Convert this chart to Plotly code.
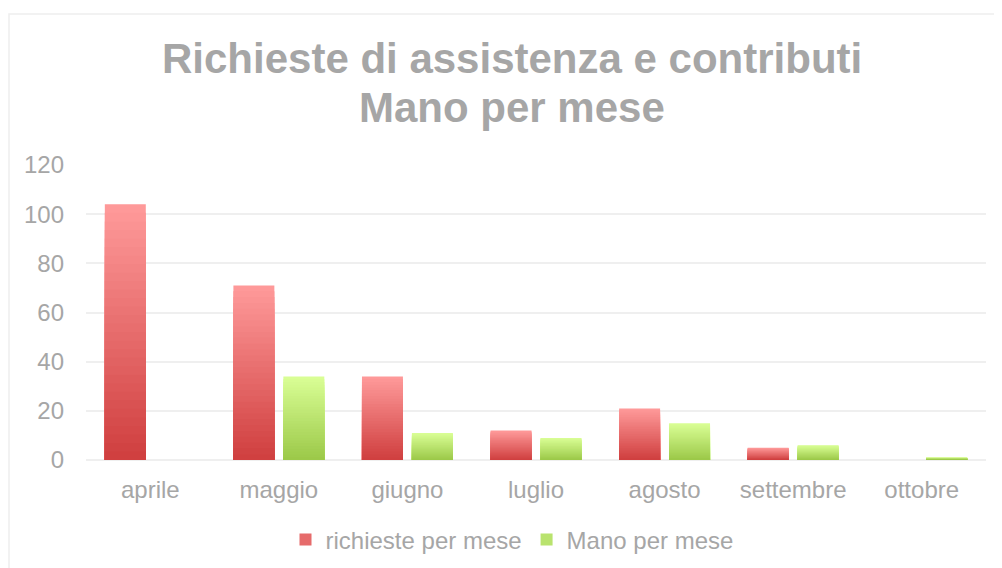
import plotly.graph_objects as go

categories = ["aprile", "maggio", "giugno", "luglio", "agosto", "settembre", "ottobre"]
richieste = [104, 71, 34, 12, 21, 5, 0]
mano = [0, 34, 11, 9, 15, 6, 1]
series_names = ["richieste per mese", "Mano per mese"]
title_lines = ["Richieste di assistenza e contributi", "Mano per mese"]
y_ticks = [0, 20, 40, 60, 80, 100, 120]

red_top, red_bottom = (255, 155, 155), (207, 62, 62)
green_top, green_bottom = (218, 255, 150), (155, 200, 72)

N_LAYERS = 30
TEXT = "#A6A6A6"
FONT = "Liberation Sans, Arial, sans-serif"
FS = 24


def lerp(c1, c2, f):
    return "rgb(%d,%d,%d)" % tuple(round(a + (b - a) * f) for a, b in zip(c1, c2))


fig = go.Figure()

for name, vals, top, bottom, grp in [
    (series_names[0], richieste, red_top, red_bottom, "r"),
    (series_names[1], mano, green_top, green_bottom, "g"),
]:
    for k in range(N_LAYERS):
        frac = 1 - k / N_LAYERS
        f_col = 1 - (k + 0.5) / N_LAYERS  # 1 = top colour, 0 = bottom colour
        fig.add_trace(go.Bar(
            x=categories,
            y=[v * frac for v in vals],
            name=name,
            offsetgroup=grp,
            legendgroup=grp,
            showlegend=(k == N_LAYERS // 2),
            marker=dict(color=lerp(bottom, top, f_col), line=dict(width=0)),
            hoverinfo="skip" if k else "x+y+name",
        ))

# The page body has an 8px margin, so the figure starts at window (8, 8).
OFF = 8
W, H = 1002 - OFF, 568 - OFF
# plot area in window coords: x 86..986, y 165..460
L, T = 86 - OFF, 165 - OFF
R, B = W - (986 - OFF), H - (460 - OFF)
pw, ph = W - L - R, H - T - B


def wx(x):  # window x -> container fraction
    return (x - OFF) / W


def wy(y):  # window y -> container fraction
    return 1 - (y - OFF) / H


fig.update_layout(
    width=W, height=H,
    margin=dict(l=L, r=R, t=T, b=B),
    paper_bgcolor="white", plot_bgcolor="white",
    barmode="group", bargap=0.223, bargroupgap=0.18,
    font=dict(family=FONT, color=TEXT, size=FS),
    legend=dict(
        orientation="h", x=wx(512), xref="container", xanchor="center",
        y=wy(540), yref="container", yanchor="middle",
        font=dict(size=FS, color=TEXT), itemwidth=30,
        traceorder="normal",
    ),
    showlegend=True,
)

for line, ycen in zip(title_lines, [59, 108]):
    fig.add_annotation(
        text="<b>%s</b>" % line, showarrow=False,
        xref="paper", yref="paper",
        x=(512 - 86) / pw, xanchor="center",
        y=(460 - ycen) / ph, yanchor="middle",
        font=dict(size=42, color=TEXT, family=FONT),
    )

fig.update_yaxes(
    range=[0, 120], tickvals=y_ticks, ticktext=[str(t) for t in y_ticks],
    showgrid=True, gridcolor="#EFEFEF", gridwidth=1.6,
    zeroline=True, zerolinecolor="#EFEFEF", zerolinewidth=1.6,
    showline=False, ticks="", ticklabelstandoff=21,
    tickfont=dict(size=FS, color=TEXT),
)
fig.update_xaxes(
    showgrid=False, showline=False, ticks="", ticklabelstandoff=13,
    tickfont=dict(size=FS, color=TEXT),
)

# outer chart border (left edge kept just inside the figure)
fig.add_shape(
    type="rect", xref="paper", yref="paper",
    x0=(9 - 86) / pw, x1=(1010 - 86) / pw,
    y0=(460 - 580) / ph, y1=(460 - 14) / ph,
    line=dict(color="#EEEEEE", width=1.5), fillcolor="rgba(0,0,0,0)", layer="below",
)

fig.write_html("out.html")
